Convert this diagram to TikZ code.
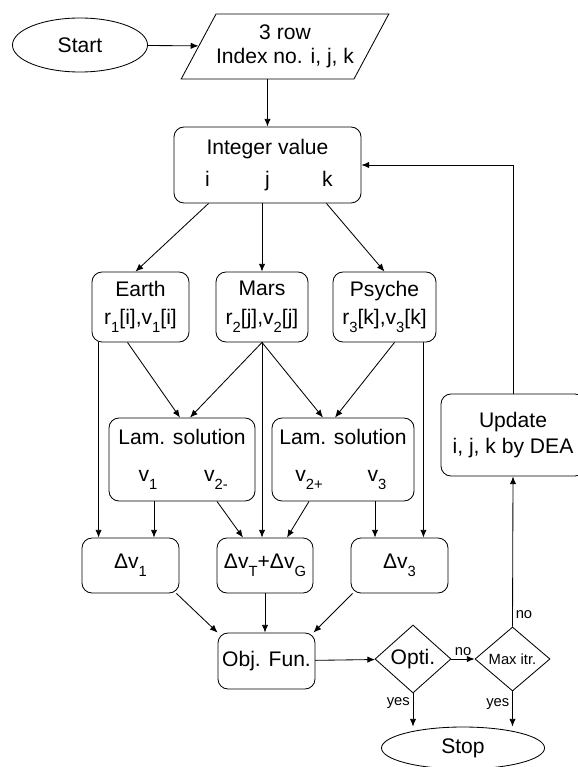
\documentclass[tikz,border=0pt]{standalone}
\usepackage{fontspec}
\setmainfont{Liberation Sans}
\usetikzlibrary{shapes.geometric,arrows.meta,calc}
\newcommand{\sbs}[1]{\raisebox{-6pt}{\fontsize{10.5}{10.5}\selectfont #1}}

\begin{document}
\begin{tikzpicture}[x=0.025cm,y=-0.025cm,line width=0.6pt,
    >={Latex[length=5.5pt,width=4.5pt]},
    every node/.style={font=\fontsize{15}{18}\selectfont},
    box/.style={draw,rounded corners=0.25cm,align=center,inner sep=0pt},
    term/.style={draw,ellipse,inner sep=0pt},
    io/.style={draw,trapezium,trapezium left angle=51,trapezium right angle=129,trapezium stretches body,align=center,inner sep=0pt},
    test/.style={draw,diamond,inner sep=0pt},
    tag/.style={font=\fontsize{10.5}{12}\selectfont,inner sep=2pt}]
            \useasboundingbox (0,0) rectangle (577,767);
            \node[term,minimum width=3.375cm,minimum height=1.35cm] (start) at (80,45) {Start};
            \node[io,minimum width=5.15cm,minimum height=1.625cm] (input) at (285,46.5) {3 row\\[-1pt]Index no. i, j, k};
            \node[box,minimum width=4.675cm,minimum height=1.9cm] (intv) at (267.5,165) {Integer value\\[5pt]\makebox[1.5cm]{i}\makebox[1.5cm]{j}\makebox[1.5cm]{k}};
            \node[box,minimum width=2.425cm,minimum height=1.75cm] (earth) at (140.5,307) {Earth\\[2pt]r\sbs{1}[i],v\sbs{1}[i]};
            \node[box,minimum width=2.3cm,minimum height=1.75cm] (mars) at (262,307) {Mars\\[2pt]r\sbs{2}[j],v\sbs{2}[j]};
            \node[box,minimum width=2.575cm,minimum height=1.75cm] (psyche) at (384.5,307) {Psyche\\[2pt]r\sbs{3}[k],v\sbs{3}[k]};
            \node[box,minimum width=3.65cm,minimum height=2.075cm] (lam1) at (182,459.5) {Lam. solution\\[8pt]\makebox[1.7cm]{v\sbs{1}}\makebox[1.7cm]{v\sbs{2-}}};
            \node[box,minimum width=3.55cm,minimum height=2.075cm] (lam2) at (343,459.5) {Lam. solution\\[8pt]\makebox[1.7cm]{v\sbs{2+}}\makebox[1.7cm]{v\sbs{3}}};
            \node[box,minimum width=2.425cm,minimum height=1.375cm] (dv1) at (130.5,565.5) {Δv\sbs{1}};
            \node[box,minimum width=2.4cm,minimum height=1.375cm] (dvtg) at (265,565.5) {Δv\sbs{T}+Δv\sbs{G}};
            \node[box,minimum width=2.425cm,minimum height=1.375cm] (dv3) at (399.5,565.5) {Δv\sbs{3}};
            \node[box,minimum width=2.425cm,minimum height=1.4cm] (obj) at (266.5,661) {Obj. Fun.};
            \node[test,minimum width=1.9cm,minimum height=1.7cm] (opti) at (413,659) {Opti.};
            \node[test,minimum width=1.875cm,minimum height=1.6cm,font=\fontsize{10.5}{12}\selectfont] (maxit) at (512.5,659) {Max itr.};
            \node[term,minimum width=4.075cm,minimum height=1.05cm] (stop) at (463,748) {Stop};
            \node[box,minimum width=3.6cm,minimum height=2.05cm] (update) at (513,435) {Update\\i, j, k by DEA};
            \draw[->] (start) -- (input);
            \draw[->] (input.south -| intv.north) -- (intv.north);
            \draw[->] ($(intv.south west)+(35,0)$) -- ($(earth.north)+(-5,0)$);
            \draw[->] (mars.north |- intv.south) -- (mars.north);
            \draw[->] ($(intv.south east)+(-35,0)$) -- (psyche.north);
            \draw[->] ($(earth.south)+(-13,0)$) -- ($(lam1.north)+(-2,0)$);
            \draw[->] (mars.south) -- ($(lam1.north)+(8,0)$);
            \draw[->] (mars.south) -- ($(lam2.north)+(-20,0)$);
            \draw[->] ($(psyche.south)+(10,0)$) -- ($(lam2.north)+(-8,0)$);
            \draw[->] ($(earth.south west)+(7,0)$) coordinate (e1) -- (e1 |- dv1.north);
            \draw[->] ($(lam1.south)+(-28,0)$) coordinate (l1) -- (l1 |- dv1.north);
            \draw[->] ($(lam1.south)+(35,0)$) -- ($(dvtg.north)+(-22,0)$);
            \draw[->] (mars.south) -- (mars.south |- dvtg.north);
            \draw[->] ($(lam2.south)+(-34,0)$) -- ($(dvtg.north)+(22,0)$);
            \draw[->] ($(lam2.south)+(32,0)$) coordinate (l2) -- (l2 |- dv3.north);
            \draw[->] ($(psyche.south east)+(-13,0)$) coordinate (p1) -- (p1 |- dv3.north);
            \draw[->] ($(dv1.south east)+(-3,0)$) -- (obj.north west);
            \draw[->] (dvtg.south) -- (dvtg.south |- obj.north);
            \draw[->] ($(dv3.south west)+(2,0)$) -- ($(obj.north east)+(-2,0)$);
            \draw[->] (obj) -- (opti);
            \draw[->] (opti) -- node[tag,above] {no} (maxit);
            \draw[->] (opti.south) -- node[tag,left,pos=0.3] {yes} (opti.south |- stop.north);
            \draw[->] (maxit.south) -- node[tag,left,pos=0.35] {yes} (maxit.south |- stop.north);
            \draw[->] (maxit.north) -- node[tag,right,pos=0.08] {no} (update.south);
            \draw[->] (update.north) |- (intv.east);
\end{tikzpicture}
\end{document}
